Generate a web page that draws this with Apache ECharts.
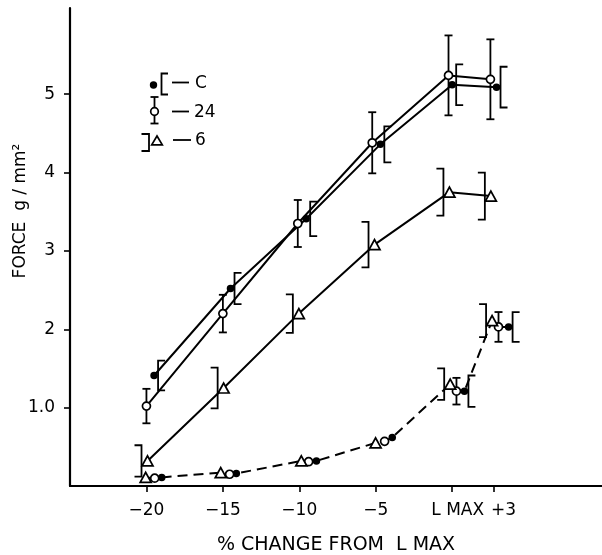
<!DOCTYPE html>
<html>
<head>
<meta charset="utf-8">
<script src="https://cdn.jsdelivr.net/npm/echarts@6/dist/echarts.min.js"></script>
<style>
html,body{margin:0;padding:0;background:#fff;}
#chart{width:602px;height:555px;}
</style>
</head>
<body>
<div id="chart"></div>
<script>
// ---- tick positions and labels ----
const xTickPos = [-20, -15, -10, -5, 0, 2.7];
const xTickLabels = ['\u221220', '\u221215', '\u221210', '\u22125', 'L MAX', '+3'];
const yTickValues = [1, 2, 3, 4, 5];
const yTickLabels = ['1.0', '2', '3', '4', '5'];

// ---- upper (solid) curves ----
const cUpX   = [-19.5, -14.5, -9.55, -4.7, 0.0, 2.9];
const cUpY   = [1.41, 2.52, 3.41, 4.36, 5.12, 5.09];
const cUpErr = [0.19, 0.20, 0.22, 0.23, 0.26, 0.26];

const h24UpX   = [-20.0, -15.0, -10.1, -5.23, -0.24, 2.5];
const h24UpY   = [1.02, 2.20, 3.35, 4.38, 5.24, 5.19];
const h24UpErr = [0.22, 0.24, 0.30, 0.39, 0.51, 0.51];

const h6UpX   = [-19.93, -14.95, -10.03, -5.08, -0.18, 2.53];
const h6UpY   = [0.32, 1.25, 2.20, 3.08, 3.75, 3.70];
const h6UpErr = [0.20, 0.26, 0.245, 0.29, 0.30, 0.30];

// ---- lower (dashed) curve ----
const cLoX   = [-19.0, -14.12, -8.88, -3.92, 0.80, 3.69];
const cLoY   = [0.11, 0.16, 0.32, 0.62, 1.21, 2.03];
const cLoErr = [null, null, null, null, 0.20, 0.19];

const h24LoX   = [-19.46, -14.56, -9.39, -4.42, 0.28, 3.03];
const h24LoY   = [0.10, 0.15, 0.31, 0.57, 1.21, 2.03];
const h24LoErr = [null, null, null, null, 0.17, 0.19];

const h6LoX   = [-20.05, -15.14, -9.87, -5.01, -0.13, 2.61];
const h6LoY   = [0.11, 0.17, 0.32, 0.55, 1.30, 2.11];
const h6LoErr = [null, null, null, null, 0.20, 0.21];

// ---- helpers ----
function pts(xs, ys) { return xs.map((x, i) => [x, ys[i]]); }
function errPts(xs, ys, es) {
  const out = [];
  xs.forEach((x, i) => { if (es[i] != null) out.push([x, ys[i], es[i]]); });
  return out;
}
function indexFor(v, pos) {
  for (let i = 0; i < pos.length; i++) if (Math.abs(pos[i] - v) < 1e-6) return i;
  return -1;
}

const stroke = { stroke: '#000', lineWidth: 1.8, fill: null };

function errRender(kind) {
  return function (params, api) {
    const x = api.value(0), y = api.value(1), e = api.value(2);
    const top = api.coord([x, y + e]);
    const bot = api.coord([x, y - e]);
    const px = top[0];
    const children = [];
    if (kind === 'I') {
      children.push({ type: 'line', shape: { x1: px, y1: top[1], x2: px, y2: bot[1] }, style: stroke });
      children.push({ type: 'line', shape: { x1: px - 4, y1: top[1], x2: px + 4, y2: top[1] }, style: stroke });
      children.push({ type: 'line', shape: { x1: px - 4, y1: bot[1], x2: px + 4, y2: bot[1] }, style: stroke });
    } else if (kind === '[') {
      const bx = px + 4;
      children.push({ type: 'polyline', shape: { points: [[bx + 7, top[1]], [bx, top[1]], [bx, bot[1]], [bx + 7, bot[1]]] }, style: stroke });
    } else {
      const bx = px - 6;
      children.push({ type: 'polyline', shape: { points: [[bx - 7, top[1]], [bx, top[1]], [bx, bot[1]], [bx - 7, bot[1]]] }, style: stroke });
    }
    return { type: 'group', children: children };
  };
}

const filledSym = { symbol: 'circle', symbolSize: 7.5, itemStyle: { color: '#000', borderColor: '#000', borderWidth: 0, opacity: 1 } };
const openSym = { symbol: 'circle', symbolSize: 8, itemStyle: { color: '#fff', borderColor: '#000', borderWidth: 1.7, opacity: 1 } };
const triSym = { symbol: 'triangle', symbolSize: [11, 10], itemStyle: { color: '#fff', borderColor: '#000', borderWidth: 1.7, opacity: 1 } };

function solidLine(name, data, sym) {
  return Object.assign({
    name: name, type: 'line', data: data, showSymbol: true, z: 3,
    lineStyle: { color: '#000', width: 2 }
  }, sym);
}
function scatter(name, data, sym) {
  return Object.assign({ name: name, type: 'scatter', data: data, z: 4 }, sym);
}

// dashed passive curve through all lower points ordered along x
const lowerAll = pts(h6LoX, h6LoY).concat(pts(h24LoX, h24LoY), pts(cLoX, cLoY)).sort((a, b) => a[0] - b[0]);

const chart = echarts.init(document.getElementById('chart'), null, { renderer: 'canvas' });
const font = 'DejaVu Sans';
const xLabelStyle = ['n', 'n', 'n', 'n', 'lm', 'p3'];

chart.setOption({
  animation: false,
  backgroundColor: '#fff',
  grid: { left: 70, right: 0, top: 8, bottom: 69, containLabel: false, outerBoundsMode: 'none' },
  xAxis: {
    type: 'value', min: -25, max: 9.8,
    name: '% CHANGE FROM  L MAX', nameLocation: 'middle', nameGap: 50,
    nameTextStyle: { fontFamily: font, fontSize: 19, color: '#000' },
    axisLine: { show: true, onZero: false, lineStyle: { color: '#000', width: 2.2 } },
    axisTick: { show: true, length: 6, inside: false, customValues: xTickPos, lineStyle: { color: '#000', width: 1.6 } },
    axisLabel: { customValues: xTickPos, margin: 16, fontFamily: font, fontSize: 17, color: '#000',
      formatter: v => { const i = indexFor(v, xTickPos); return i < 0 ? '' : '{' + xLabelStyle[i] + '|' + xTickLabels[i] + '}'; },
      rich: {
        n: { fontFamily: font, fontSize: 17, color: '#000' },
        lm: { fontFamily: font, fontSize: 17, color: '#000', padding: [0, 0, 0, 11] },
        p3: { fontFamily: font, fontSize: 17, color: '#000', padding: [0, 0, 0, 20] }
      } },
    splitLine: { show: false }
  },
  yAxis: {
    type: 'value', min: 0, max: 6.1,
    axisLine: { show: true, onZero: false, lineStyle: { color: '#000', width: 2.2 } },
    axisTick: { show: true, length: 6, inside: false, customValues: yTickValues, lineStyle: { color: '#000', width: 1.6 } },
    axisLabel: { customValues: yTickValues, margin: 15, fontFamily: font, fontSize: 17, color: '#000',
      formatter: v => { const i = indexFor(v, yTickValues); return i < 0 ? '' : yTickLabels[i]; } },
    splitLine: { show: false }
  },
  graphic: [
    { type: 'text', x: 21, y: 211, rotation: Math.PI / 2,
      style: { text: 'FORCE  g / mm\u00b2', fontFamily: font, fontSize: 17, fill: '#000', align: 'center', verticalAlign: 'middle' } },
    // legend: C
    { type: 'circle', shape: { cx: 153.5, cy: 85, r: 3.7 }, style: { fill: '#000' } },
    { type: 'polyline', shape: { points: [[168, 73.5], [161.5, 73.5], [161.5, 94.5], [168, 94.5]] }, style: stroke },
    { type: 'line', shape: { x1: 172, y1: 82.5, x2: 189, y2: 82.5 }, style: { stroke: '#000', lineWidth: 1.8 } },
    { type: 'text', x: 195, y: 83.5, style: { text: 'C', fontFamily: font, fontSize: 17, fill: '#000', verticalAlign: 'middle' } },
    // legend: 24
    { type: 'line', shape: { x1: 154.5, y1: 97, x2: 154.5, y2: 123.5 }, style: { stroke: '#000', lineWidth: 1.8 } },
    { type: 'line', shape: { x1: 150.5, y1: 97, x2: 158.5, y2: 97 }, style: { stroke: '#000', lineWidth: 1.8 } },
    { type: 'line', shape: { x1: 150.5, y1: 123.5, x2: 158.5, y2: 123.5 }, style: { stroke: '#000', lineWidth: 1.8 } },
    { type: 'circle', shape: { cx: 154.5, cy: 111.5, r: 3.8 }, style: { fill: '#fff', stroke: '#000', lineWidth: 1.7 } },
    { type: 'line', shape: { x1: 172, y1: 111.5, x2: 189, y2: 111.5 }, style: { stroke: '#000', lineWidth: 1.8 } },
    { type: 'text', x: 194, y: 112.5, style: { text: '24', fontFamily: font, fontSize: 17, fill: '#000', verticalAlign: 'middle' } },
    // legend: 6
    { type: 'polyline', shape: { points: [[141.5, 134], [149, 134], [149, 151], [141.5, 151]] }, style: stroke },
    { type: 'polygon', shape: { points: [[157, 136], [151.7, 144.8], [162.3, 144.8]] }, style: { fill: '#fff', stroke: '#000', lineWidth: 1.7 } },
    { type: 'line', shape: { x1: 173, y1: 140, x2: 191, y2: 140 }, style: { stroke: '#000', lineWidth: 1.8 } },
    { type: 'text', x: 195, y: 141, style: { text: '6', fontFamily: font, fontSize: 17, fill: '#000', verticalAlign: 'middle' } }
  ],
  series: [
    { type: 'custom', z: 1, renderItem: errRender('['), encode: { x: 0, y: 1 },
      data: errPts(cUpX, cUpY, cUpErr).concat(errPts(cLoX, cLoY, cLoErr)) },
    { type: 'custom', z: 1, renderItem: errRender('I'), encode: { x: 0, y: 1 },
      data: errPts(h24UpX, h24UpY, h24UpErr).concat(errPts(h24LoX, h24LoY, h24LoErr)) },
    { type: 'custom', z: 1, renderItem: errRender(']'), encode: { x: 0, y: 1 },
      data: errPts(h6UpX, h6UpY, h6UpErr).concat(errPts(h6LoX, h6LoY, h6LoErr)) },
    solidLine('C', pts(cUpX, cUpY), filledSym),
    solidLine('24', pts(h24UpX, h24UpY), openSym),
    solidLine('6', pts(h6UpX, h6UpY), triSym),
    { type: 'line', data: lowerAll, showSymbol: false, symbol: 'none', z: 2,
      lineStyle: { color: '#000', width: 2, type: [10, 6] } },
    scatter('C passive', pts(cLoX, cLoY), filledSym),
    scatter('24 passive', pts(h24LoX, h24LoY), openSym),
    scatter('6 passive', pts(h6LoX, h6LoY), triSym)
  ]
});
</script>
</body>
</html>
